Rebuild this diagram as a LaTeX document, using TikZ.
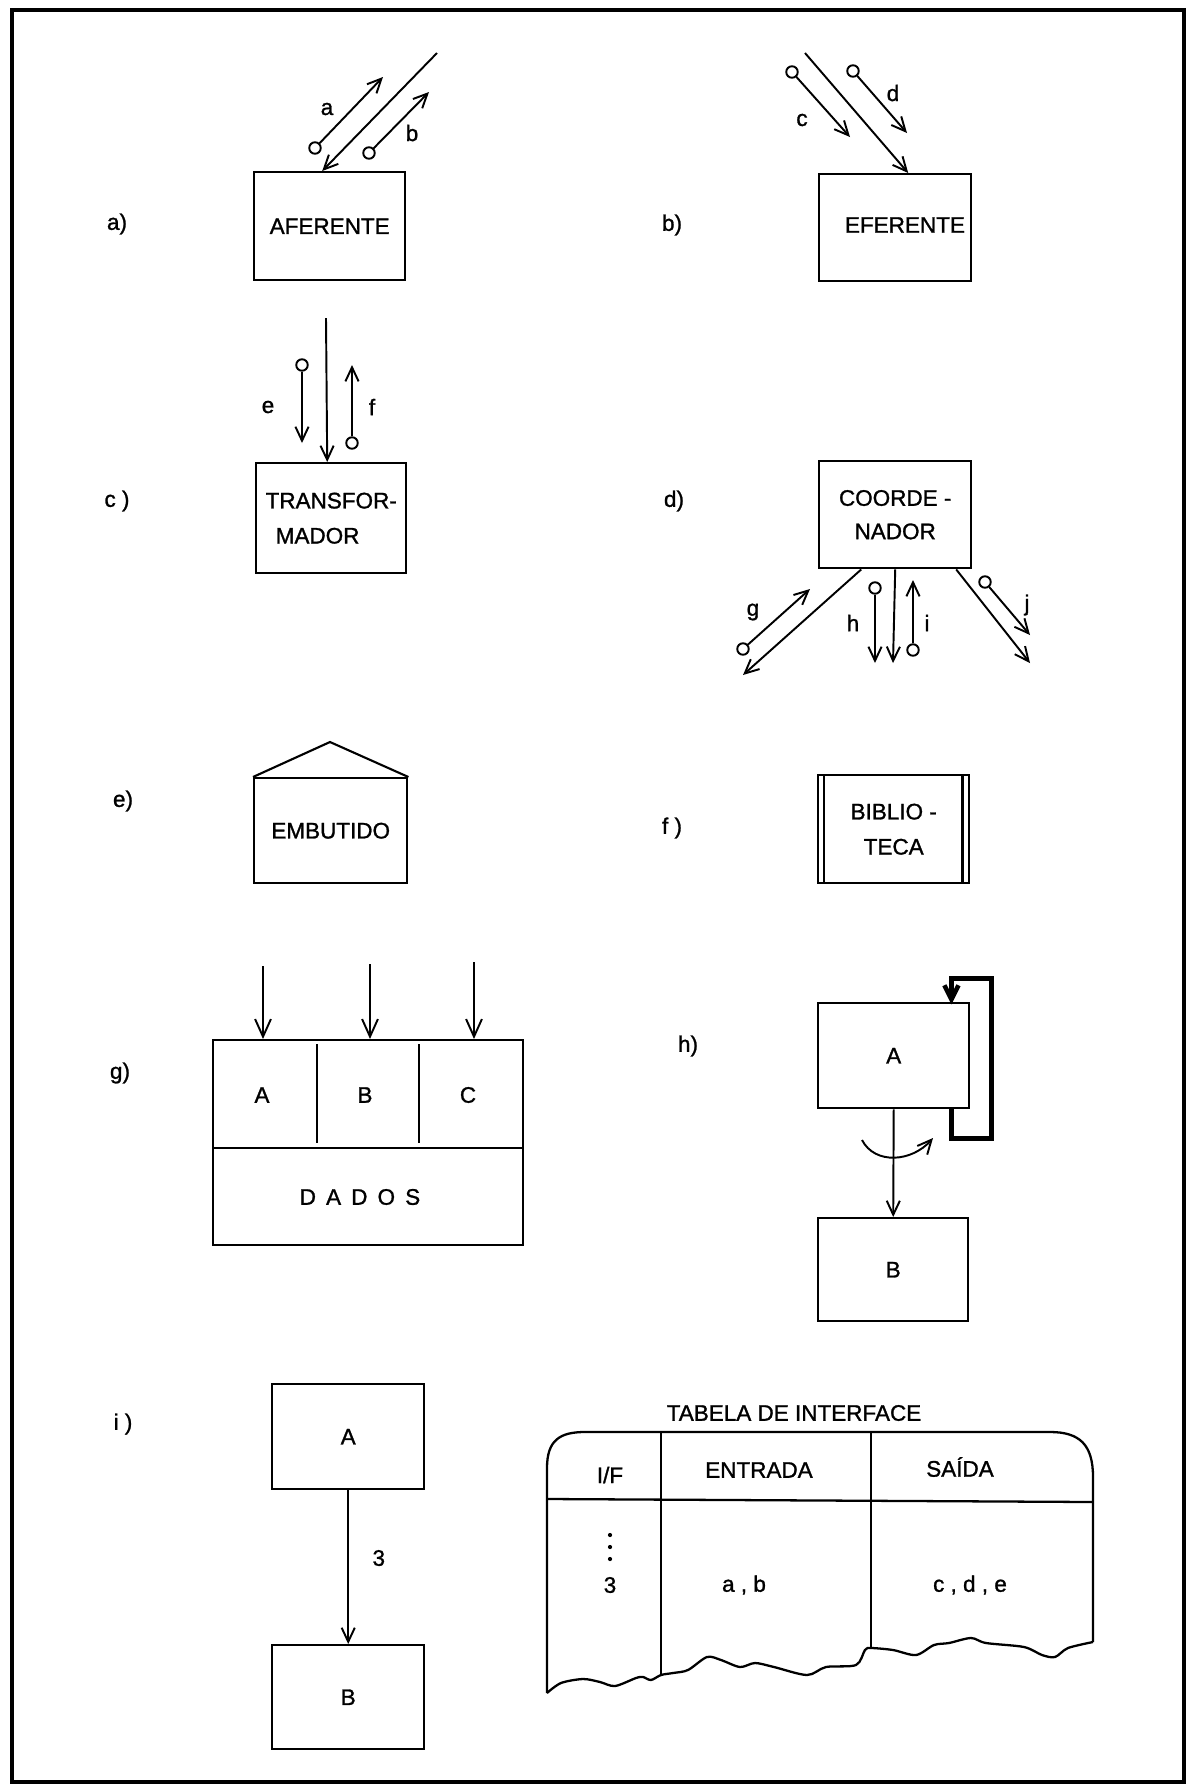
\documentclass[tikz,border=0pt]{standalone}
\usepackage{fontspec}
\setmainfont{Liberation Sans}[FakeBold=1.2]
\usetikzlibrary{arrows.meta}

\tikzset{
  module/.style={draw, line width=1.4pt, anchor=north west, inner sep=0pt, align=center},
  flow/.style={line width=1.1pt, -{Straight Barb[length=8pt,width=7.5pt]}},
  port/.style={circle, draw, line width=1.1pt, inner sep=0pt, minimum size=0.23cm},
}

\begin{document}
\begin{tikzpicture}[x=0.02cm, y=-0.02cm, font=\fontsize{12.8}{20}\selectfont]
    \useasboundingbox (0,0) rectangle (1188,1786);
    \draw[line width=2.8pt] (12,10) rectangle (1184,1782);

    % --- a) Aferente ---
    \node (lbla) at (117,224) {a)};
    \node[module, minimum width=3.02cm, minimum height=2.16cm] (afer) at (253,171) {AFERENTE};
    \coordinate (aferin) at (437,53);
    \draw[flow] (aferin) -- ([xshift=-0.15cm]afer.north);
    \node[port] (pa) at (315,148) {};
    \node[port] (pb) at (369,153) {};
    \draw[flow] (pa) -- (383,77);
    \draw[flow] (pb) -- (429,92);
    \node (fa) at (327,109) {a};
    \node (fb) at (412,133) {b};

    % --- b) Eferente ---
    \node (lblb) at (672,225) {b)};
    \node[module, minimum width=3.04cm, minimum height=2.14cm] (efer) at (818,173) {};
    \node (efertxt) at (905,225) {EFERENTE};
    \coordinate (eferin) at (805,53);
    \draw[flow] (eferin) -- ([xshift=0.26cm]efer.north);
    \node[port] (pc) at (792,72) {};
    \node[port] (pd) at (853,71) {};
    \draw[flow] (pc) -- (850,137);
    \draw[flow] (pd) -- (907,133);
    \node (fc) at (802,120) {c};
    \node (fd) at (893,93) {d};

    % --- c) Transformador ---
    \node (lblc) at (117,501) {c )};
    \node[module, minimum width=3.0cm, minimum height=2.2cm, align=left] (transf) at (255,462) {TRANSFOR-\\\hspace*{0.45em}MADOR};
    \coordinate (transfin) at (326,318);
    \draw[flow] (transfin) -- ([xshift=-0.08cm]transf.north);
    \node[port] (pe) at (302,365) {};
    \node[port] (pf) at (352,443) {};
    \draw[flow] (pe) -- (302,443);
    \draw[flow] (pf) -- (352,365);
    \node (fe) at (268,407) {e};
    \node (ff) at (372,407) {f};

    % --- d) Coordenador ---
    \node (lbld) at (674,501) {d)};
    \node[module, minimum width=3.04cm, minimum height=2.14cm, font=\fontsize{12.8}{19}\selectfont] (coord) at (818,460) {COORDE -\\NADOR};
    \coordinate (coordg) at (743,675);
    \coordinate (coordh) at (893,663);
    \coordinate (coordj) at (1030,663);
    \draw[flow] ([xshift=-0.68cm]coord.south) -- (coordg);
    \draw[flow] (coord.south) -- (coordh);
    \draw[flow] ([xshift=1.22cm]coord.south) -- (coordj);
    \node[port] (pg) at (743,649) {};
    \node[port] (ph) at (875,588) {};
    \node[port] (pi) at (913,650) {};
    \node[port] (pj) at (985,582) {};
    \draw[flow] (pg) -- (810,589);
    \draw[flow] (ph) -- (875,663);
    \draw[flow] (pi) -- (913,580);
    \draw[flow] (pj) -- (1030,635);
    \node (fg) at (753,612) {g};
    \node (fh) at (853,623) {h};
    \node (fi) at (927,623) {i};
    \node (fj) at (1027,605) {j};

    % --- e) Embutido ---
    \node (lble) at (123,801) {e)};
    \node[module, minimum width=3.06cm, minimum height=2.1cm] (embut) at (253,777) {EMBUTIDO};
    \draw[line width=1.2pt] (embut.north west) -- (330,742) -- (embut.north east);

    % --- f) Biblioteca ---
    \node (lblf) at (672,828) {f )};
    \node[module, minimum width=3.02cm, minimum height=2.16cm] (bib) at (817,774) {BIBLIO -\\TECA};
    \draw[line width=1.4pt] ([xshift=0.14cm]bib.north west) -- ([xshift=0.14cm]bib.south west);
    \draw[line width=1.4pt] ([xshift=-0.16cm]bib.north east) -- ([xshift=-0.16cm]bib.south east);

    % --- g) Modulo com varias entradas ---
    \node (lblg) at (120,1073) {g)};
    \node[draw, line width=1.4pt, anchor=north west, minimum width=6.2cm, minimum height=4.1cm] (gbox) at (212,1039) {};
    \coordinate (gmid) at (0,1148);
    \draw[line width=1.2pt] (gbox.west |- gmid) -- (gbox.east |- gmid);
    \draw[line width=1.4pt] (317,1044) -- (317,1143);
    \draw[line width=1.4pt] (419,1044) -- (419,1143);
    \node (gA) at (262,1095) {A};
    \node (gB) at (365,1095) {B};
    \node (gC) at (468,1095) {C};
    \node (gdados) at (360,1197) {D\hspace{0.45em}A\hspace{0.45em}D\hspace{0.45em}O\hspace{0.45em}S};
    \foreach \x/\y in {263/966, 370/964, 474/962} {
        \draw[line width=1.1pt, -{Straight Barb[length=10pt,width=9pt]}] (\x,\y) -- (gbox.north -| \x,\y);
    }

    % --- h) Chamada com iteracao ---
    \node (lblh) at (688,1046) {h)};
    \node[module, minimum width=3.02cm, minimum height=2.1cm] (hA) at (817,1002) {A};
    \node[module, minimum width=3.0cm, minimum height=2.06cm] (hB) at (817,1217) {B};
    \draw[flow] (hA.south) -- (hB.north);
    \draw[line width=2.6pt, -{Straight Barb[length=8pt,width=8pt]}] (hA.south east) ++(-19,0)
        -- ++(0,29) -- ++(40,0) -- ++(0,-160) -- ++(-40,0) -- ++(0,26);
    \draw[flow] (862,1140) .. controls (875,1165) and (912,1162) .. (933,1138);

    % --- i) Interface numerada ---
    \node (lbli) at (123,1424) {i )};
    \node[module, minimum width=3.04cm, minimum height=2.1cm] (iA) at (271,1383) {A};
    \node[module, minimum width=3.04cm, minimum height=2.08cm] (iB) at (271,1644) {B};
    \draw[flow] (iA.south) -- node[pos=0.44, right=0.35cm] (iflow) {3} (iB.north);

    % --- Tabela de interface ---
    \node (tabtitle) at (794,1413) {TABELA DE INTERFACE};
    \draw[line width=1.3pt] (547,1693) -- (547,1468)
        .. controls (547,1440) and (560,1432) .. (585,1432) -- (1050,1432)
        .. controls (1080,1432) and (1093,1445) .. (1093,1477) -- (1093,1642);
    \draw[line width=1.3pt] plot[smooth, tension=0.5] coordinates {
        (1093,1642) (1068,1648) (1055,1657) (1042,1655) (1024,1647) (986,1643)
        (971,1638) (949,1643) (934,1645) (916,1655) (893,1650) (871,1648)
        (865,1650) (856,1665) (826,1667) (807,1675) (774,1667) (755,1663)
        (740,1667) (721,1660) (707,1657) (688,1670) (673,1673) (661,1675)
        (651,1680) (643,1677) (636,1678) (615,1686) (600,1682) (583,1679)
        (561,1683) (547,1693)
    };
    \draw[line width=1.3pt] (547,1499) -- (1093,1502);
    \draw[line width=1.3pt] (661,1432) -- (661,1675);
    \draw[line width=1.3pt] (871,1432) -- (871,1648);
    \node (hif) at (610,1475) {I/F};
    \node (hin) at (759,1470) {ENTRADA};
    \node (hout) at (960,1467) {SAÍDA};
    \foreach \y in {1535,1547,1559} {
        \fill (610,\y) circle (1.2pt);
    }
    \node (rif) at (610,1585) {3};
    \node (rin) at (744,1585) {a , b};
    \node (rout) at (970,1585) {c , d , e};

\end{tikzpicture}
\end{document}
